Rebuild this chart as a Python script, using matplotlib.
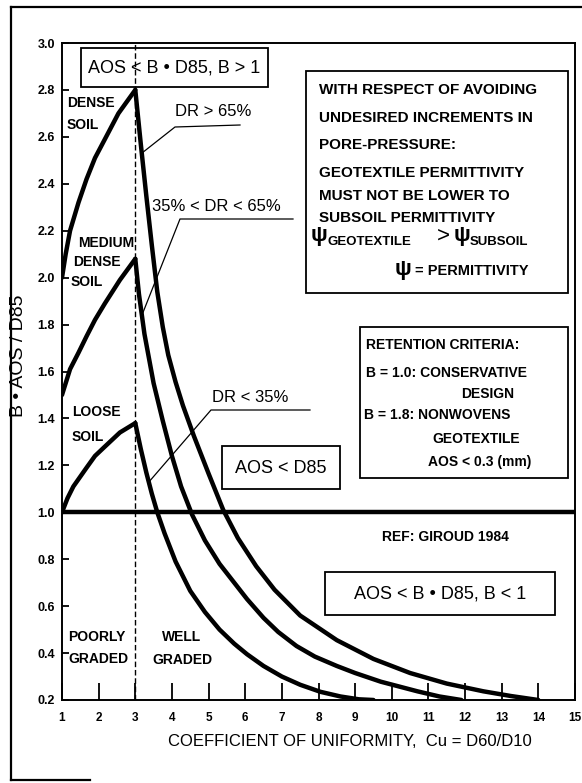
import matplotlib
matplotlib.use("Agg")
import matplotlib.pyplot as plt
from matplotlib.patches import Rectangle
from matplotlib.lines import Line2D

plt.rcParams['font.family'] = ['Liberation Sans', 'DejaVu Sans']

# poorly graded branch (Cu 1 -> 3), B values
cu_up_dense = [1, 1.1, 1.22, 1.45, 1.67, 1.9, 2.17, 2.54, 3]
b_up_dense = [2.0, 2.1, 2.2, 2.32, 2.42, 2.51, 2.59, 2.70, 2.8]
cu_up_medium = [1, 1.22, 1.45, 1.67, 1.9, 2.17, 2.58, 3]
b_up_medium = [1.5, 1.61, 1.68, 1.75, 1.82, 1.89, 1.99, 2.08]
cu_up_loose = [1, 1.15, 1.31, 1.67, 1.9, 2.17, 2.58, 3]
b_up_loose = [1.0, 1.06, 1.11, 1.19, 1.24, 1.28, 1.34, 1.38]

# well graded branch (Cu > 3)
cu_dn_dense = [3.0, 3.15, 3.3, 3.45, 3.6, 3.75, 3.9, 4.1, 4.3, 4.6, 5.0, 5.4, 5.8, 6.3, 6.8,
               7.5, 8.5, 9.5, 10.5, 11.5, 12.5, 13.25, 14]
b_dn_dense = [2.8, 2.57, 2.35, 2.14, 1.94, 1.79, 1.67, 1.555, 1.455, 1.325, 1.165, 1.01, 0.89, 0.77, 0.67,
              0.56, 0.455, 0.375, 0.315, 0.27, 0.237, 0.217, 0.2]
cu_dn_medium = [3.0, 3.1, 3.25, 3.5, 3.75, 4.0, 4.25, 4.55, 4.9, 5.3, 5.7, 6.05, 6.5, 6.9, 7.4,
                7.9, 8.5, 9.0, 9.7, 10.7, 11.3, 11.9]
b_dn_medium = [2.08, 1.93, 1.76, 1.55, 1.39, 1.24, 1.11, 0.99, 0.88, 0.78, 0.70, 0.63, 0.55, 0.49, 0.43,
               0.385, 0.345, 0.315, 0.278, 0.237, 0.215, 0.2]
cu_dn_loose = [3.0, 3.15, 3.3, 3.45, 3.6, 3.8, 4.1, 4.5, 4.9, 5.3, 5.7, 6.05, 6.5, 7.0, 7.5,
               8.05, 8.6, 9.1, 9.5]
b_dn_loose = [1.38, 1.27, 1.17, 1.08, 1.0, 0.91, 0.79, 0.665, 0.575, 0.5, 0.44, 0.395, 0.345, 0.30, 0.265,
              0.235, 0.215, 0.203, 0.2]

x_ticks = list(range(1, 16))
y_ticks = [0.2, 0.4, 0.6, 0.8, 1.0, 1.2, 1.4, 1.6, 1.8, 2.0, 2.2, 2.4, 2.6, 2.8, 3.0]

W, H = 582, 783
fig = plt.figure(figsize=(W / 100, H / 100), dpi=100)
ax = fig.add_axes([62 / W, 1 - 700 / H, 513 / W, 657 / H])


def fx(x):
    return x / W


def fy(y):
    return 1 - y / H


def txt(x, y, s, size=10, weight='bold', ha='left', va='center', **kw):
    fig.text(fx(x), fy(y), s, fontsize=size, fontweight=weight, ha=ha, va=va, **kw)


def box(x0, y0, x1, y1, lw=1.3):
    fig.add_artist(Rectangle((fx(x0), fy(y1)), (x1 - x0) / W, (y1 - y0) / H,
                             fill=False, lw=lw, ec='black', transform=fig.transFigure))


def seg(xs, ys, lw=0.9):
    fig.add_artist(Line2D([fx(v) for v in xs], [fy(v) for v in ys], lw=lw,
                          color='black', transform=fig.transFigure))


for cu, b in [(cu_up_dense, b_up_dense), (cu_up_medium, b_up_medium), (cu_up_loose, b_up_loose),
              (cu_dn_dense, b_dn_dense), (cu_dn_medium, b_dn_medium), (cu_dn_loose, b_dn_loose)]:
    ax.plot(cu, b, color='black', lw=3.2, solid_joinstyle='round', solid_capstyle='round')

ax.axhline(1.0, color='black', lw=3.2)
ax.axvline(3, color='black', lw=1, ls=(0, (4, 2)))

ax.set_xlim(1, 15)
ax.set_ylim(0.2, 3.0)
ax.set_xticks(x_ticks)
ax.set_xticklabels([str(v) for v in x_ticks], fontsize=8.5, fontweight='bold')
ax.set_yticks(y_ticks)
ax.set_yticklabels(['%.1f' % v for v in y_ticks], fontsize=9, fontweight='bold')
ax.tick_params(axis='x', direction='in', length=12, width=1.3, pad=8.5)
ax.tick_params(axis='y', direction='in', length=5, width=1.3, pad=5)
for s in ax.spines.values():
    s.set_linewidth(1.4)

# axis titles
txt(19, 356, 'B • AOS / D85', size=14, weight='normal', ha='center', rotation=90)
txt(350, 741, 'COEFFICIENT OF UNIFORMITY,  Cu = D60/D10', size=12, weight='normal', ha='center')

# outer frame of the scanned page
seg([11, 11], [7, 780], lw=1.6)
seg([11, 582], [7, 7], lw=1.6)
seg([11, 90], [780, 780], lw=1.6)

# criteria boxes
box(81, 48, 268, 87)
txt(174, 68, 'AOS < B • D85, B > 1', size=13, weight='normal', ha='center')
box(222, 446, 340, 489)
txt(281, 468, 'AOS < D85', size=13, weight='normal', ha='center')
box(325, 572, 555, 615)
txt(440, 594, 'AOS < B • D85, B < 1', size=13, weight='normal', ha='center')

# soil density labels
txt(67, 103, 'DENSE', size=10)
txt(67, 125, 'SOIL', size=10)
txt(78, 243, 'MEDIUM', size=10)
txt(73, 262, 'DENSE', size=10)
txt(71, 282, 'SOIL', size=10)
txt(72, 412, 'LOOSE', size=10)
txt(72, 437, 'SOIL', size=10)
txt(68, 637, 'POORLY', size=10)
txt(68, 659, 'GRADED', size=10)
txt(182, 637, 'WELL', size=10, ha='center')
txt(182, 660, 'GRADED', size=10, ha='center')

# relative density labels with leaders
txt(175, 112, 'DR > 65%', size=12, weight='normal')
seg([240, 175, 142], [125, 127, 153])
txt(152, 206, '35% < DR < 65%', size=12, weight='normal')
seg([293, 180, 142], [219, 219, 315])
txt(212, 397, 'DR < 35%', size=12, weight='normal')
seg([310, 211, 148], [410, 410, 483])

txt(445, 537, 'REF: GIROUD 1984', size=10, ha='center')

# permittivity box
box(306, 71, 568, 293)
perm_lines = ['WITH RESPECT OF AVOIDING', 'UNDESIRED INCREMENTS IN', 'PORE-PRESSURE:',
              'GEOTEXTILE PERMITTIVITY', 'MUST NOT BE LOWER TO', 'SUBSOIL PERMITTIVITY']
for line, y in zip(perm_lines, [90, 118, 145, 173, 196, 218]):
    txt(319, y, line, size=11)
txt(311, 235, 'ψ', size=16)
txt(327, 242, 'GEOTEXTILE', size=9.5)
txt(437, 236, '>', size=16, weight='normal')
txt(454, 235, 'ψ', size=16)
txt(470, 242, 'SUBSOIL', size=9.5)
txt(395, 269, 'ψ', size=16)
txt(415, 271, '= PERMITTIVITY', size=10.5)

# retention criteria box
box(360, 327, 568, 478)
txt(366, 345, 'RETENTION CRITERIA:', size=10)
txt(366, 373, 'B = 1.0: CONSERVATIVE', size=10)
txt(488, 394, 'DESIGN', size=10, ha='center')
txt(364, 415, 'B = 1.8: NONWOVENS', size=10)
txt(432, 439, 'GEOTEXTILE', size=10)
txt(428, 462, 'AOS < 0.3 (mm)', size=10)

fig.savefig('out.png', dpi=100)
